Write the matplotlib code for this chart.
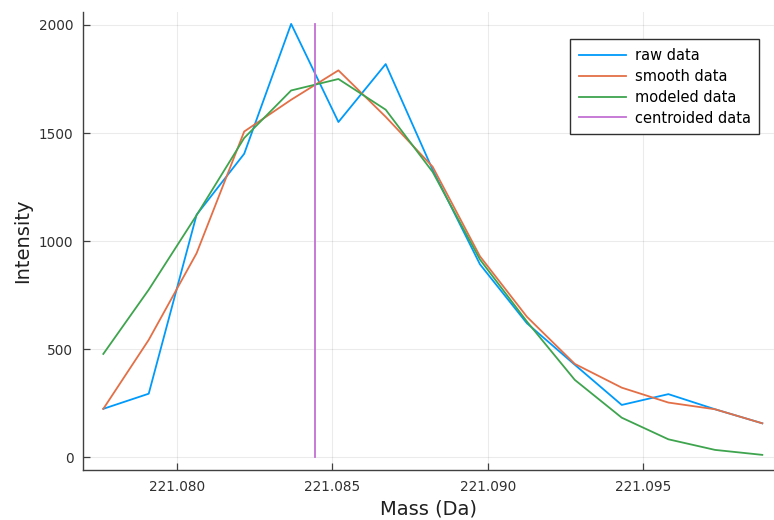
'''Peak profile: raw, smoothed, modeled and centroided mass data.'''

import numpy as np
import matplotlib.pyplot as plt

# mass axis (Da)
mass = [221.07764, 221.07910, 221.08064, 221.08217, 221.08368,
        221.08520, 221.08672, 221.08823, 221.08975, 221.09126,
        221.09280, 221.09431, 221.09581, 221.09731, 221.09883]

raw = [224, 294, 1122, 1404, 2005, 1551, 1819, 1330, 893, 620,
       428, 242, 292, 222, 157]
smooth = [224, 543, 944, 1507, 1654, 1790, 1575, 1344, 930, 650,
          432, 322, 253, 222, 157]
modeled = [478, 775, 1120, 1477, 1697, 1750, 1608, 1320, 915, 628,
           358, 183, 83, 34, 11]

centroid_mass = 221.08445
centroid_intensity = [0, 2005]

xticks = [221.080, 221.085, 221.090, 221.095]
yticks = [0, 500, 1000, 1500, 2000]

colors = ['#009AFA', '#E36F47', '#3EA44E', '#C371D2']


def main():
    fig = plt.figure(figsize=(7.74, 5.2), dpi=100)
    ax = fig.add_axes([83 / 774, 50 / 520, 691 / 774, 458 / 520])

    lw = 1.3
    ax.plot(mass, raw, color=colors[0], lw=lw, label='raw data')
    ax.plot(mass, smooth, color=colors[1], lw=lw, label='smooth data')
    ax.plot(mass, modeled, color=colors[2], lw=lw, label='modeled data')
    ax.plot([centroid_mass, centroid_mass], centroid_intensity, color=colors[3],
            lw=lw, label='centroided data')

    ax.set_xlim(221.076987, 221.099206)
    ax.set_ylim(-59, 2060)
    ax.set_xticks(xticks)
    ax.set_xticklabels([f'{t:.3f}' for t in xticks])
    ax.set_yticks(yticks)

    ax.grid(True, color='black', alpha=0.08, lw=0.8)
    for side in ['top', 'right']:
        ax.spines[side].set_visible(False)
    for side in ['left', 'bottom']:
        ax.spines[side].set_color('#404040')
        ax.spines[side].set_linewidth(1.0)
    ax.tick_params(direction='in', length=5, width=0.9, color='#404040',
                   labelsize=9.8, labelcolor='#303030', pad=7)

    ax.set_xlabel('Mass (Da)', fontsize=14, color='#202020', labelpad=4)
    ax.set_ylabel('Intensity', fontsize=14, color='#202020', labelpad=5)

    leg = ax.legend(loc='upper right', bbox_to_anchor=(0.9787, 0.9404),
                    borderaxespad=0, fontsize=10.5, fancybox=False,
                    framealpha=1, edgecolor='#303030', handlelength=3.2,
                    labelspacing=0.4, borderpad=0.6, handletextpad=0.6)
    leg.get_frame().set_linewidth(1.0)

    fig.savefig('out.png', dpi=100)


if __name__ == '__main__':
    main()
